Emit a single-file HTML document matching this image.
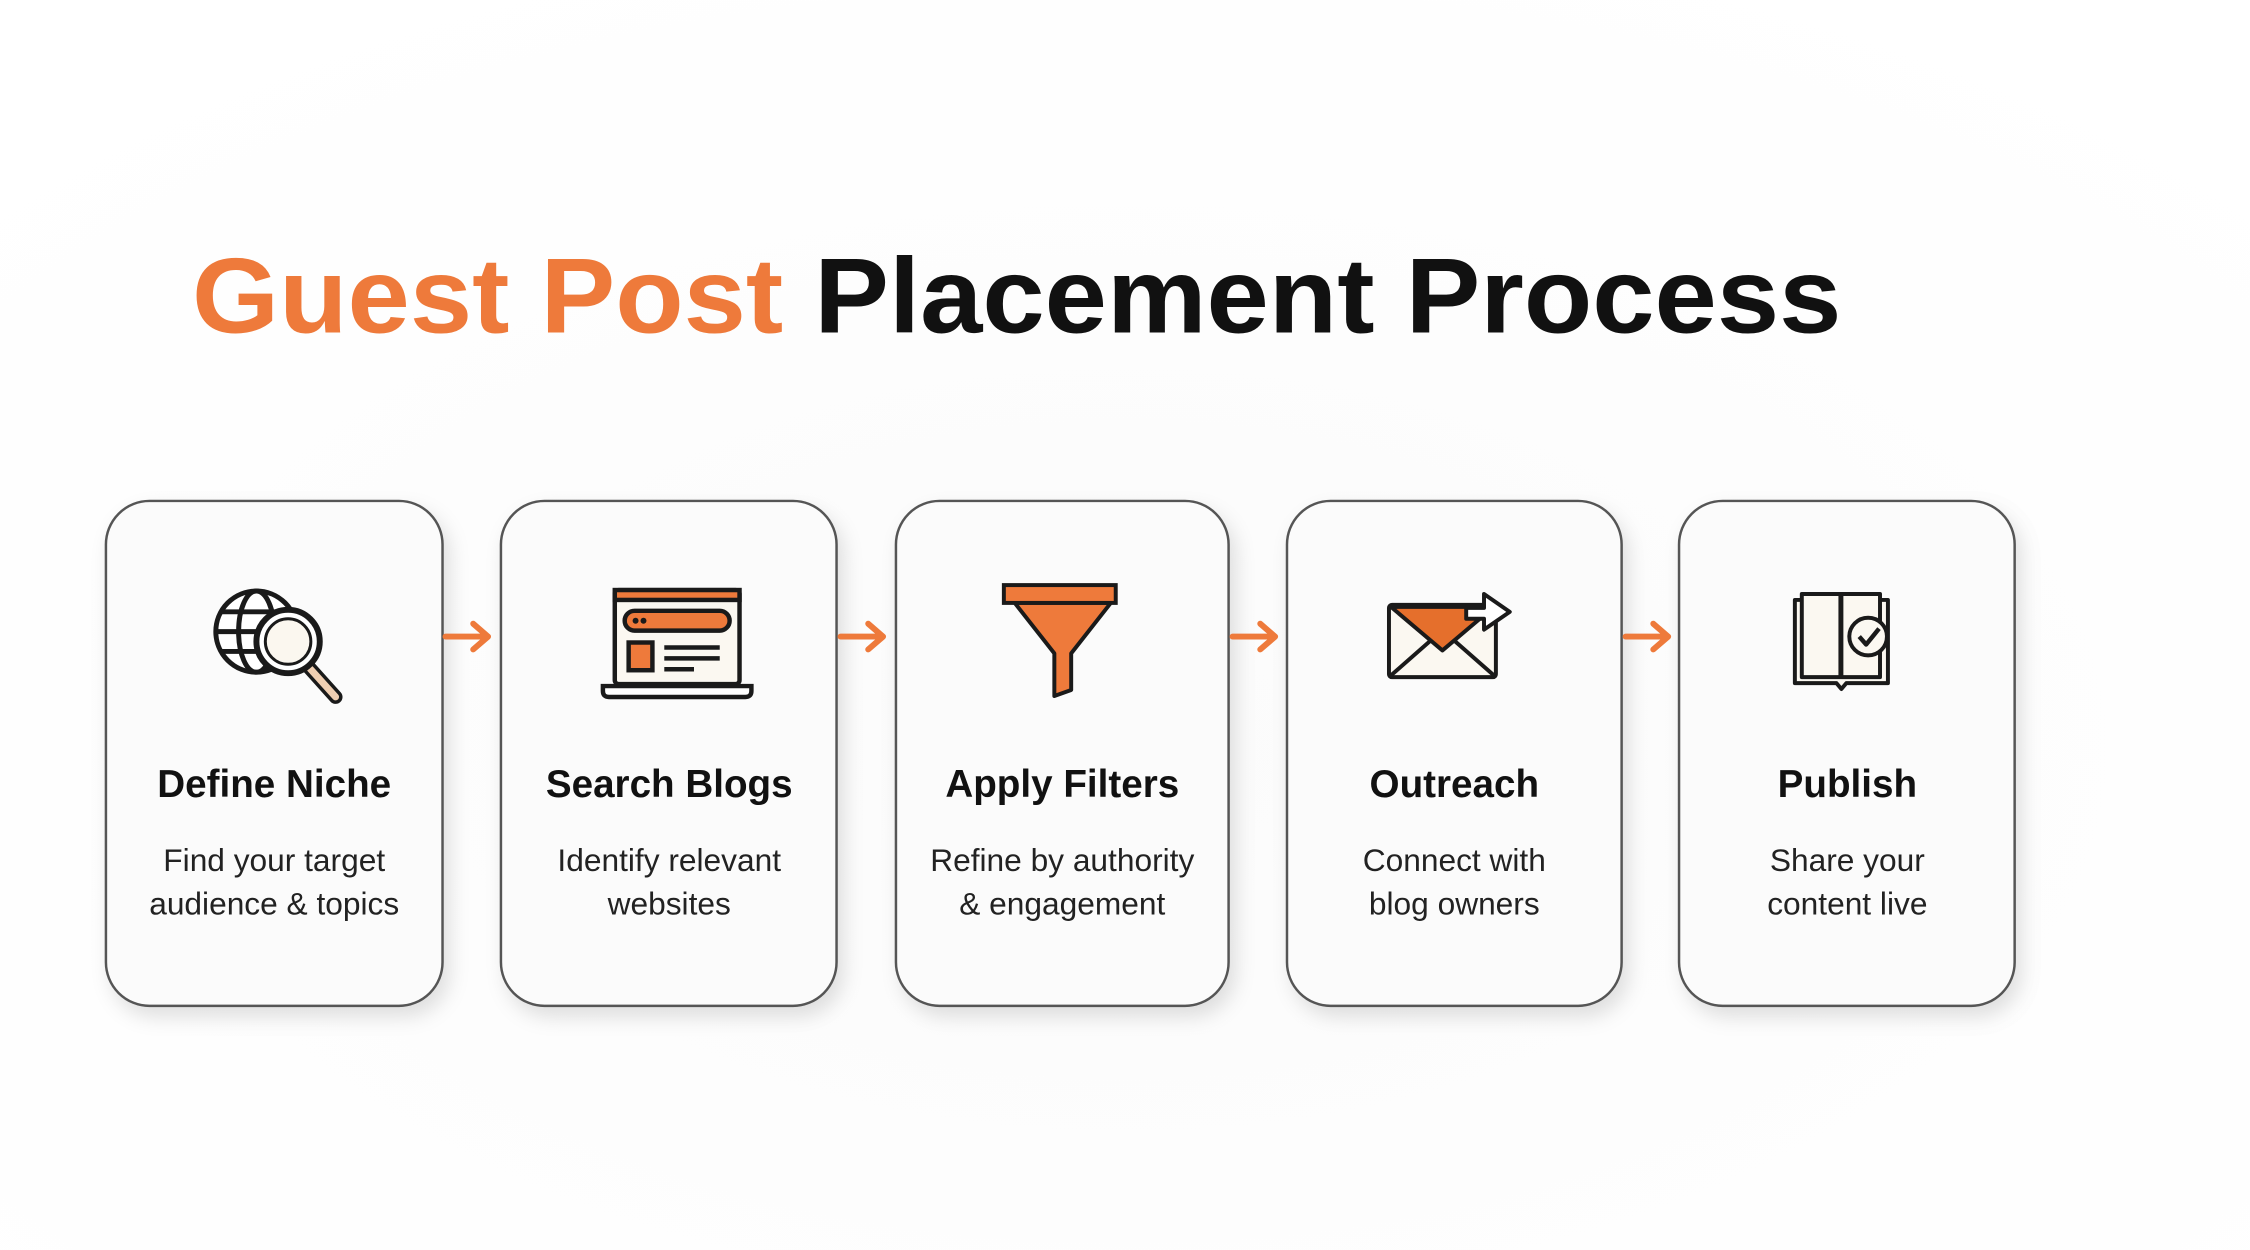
<!DOCTYPE html>
<html><head><meta charset="utf-8"><style>
html,body{margin:0;padding:0;background:#fff;}
svg{display:block;}
text{font-family:"Liberation Sans",Arial,sans-serif;}
</style></head><body>
<svg width="2250" height="1250" viewBox="0 0 2250 1250" xmlns="http://www.w3.org/2000/svg">
<defs>
<filter id="sh" x="-20%" y="-20%" width="150%" height="150%">
<feDropShadow dx="6" dy="10" stdDeviation="10" flood-color="#000" flood-opacity="0.12"/>
</filter>
<radialGradient id="bg" cx="50%" cy="60%" r="70%">
<stop offset="0" stop-color="#fbfbfb"/><stop offset="1" stop-color="#ffffff"/>
</radialGradient>
</defs>
<rect width="2250" height="1250" fill="url(#bg)"/>
<g transform="scale(0.99)">
<text x="194" y="336" font-size="108" font-weight="bold" textLength="1666" lengthAdjust="spacingAndGlyphs"><tspan fill="#ee7a3b">Guest Post</tspan> <tspan fill="#111">Placement Process</tspan></text>

<g filter="url(#sh)" fill="#fbfbfb" stroke="#555" stroke-width="2.5">
<rect x="107" y="506" width="340" height="510" rx="44"/>
<rect x="506" y="506" width="339" height="510" rx="44"/>
<rect x="905" y="506" width="336" height="510" rx="44"/>
<rect x="1300" y="506" width="338" height="510" rx="44"/>
<rect x="1696" y="506" width="339" height="510" rx="44"/>
</g>

<g stroke="#ee7a3b" stroke-width="6" fill="none" stroke-linecap="round" stroke-linejoin="round">
<path d="M450 643 H492 M478 630 L493 643 L478 656"/>
<path d="M849 643 H891 M877 630 L892 643 L877 656"/>
<path d="M1245 643 H1287 M1273 630 L1288 643 L1273 656"/>
<path d="M1642 643 H1684 M1670 630 L1685 643 L1670 656"/>
</g>

<g transform="translate(9,6)">
<g stroke="#1a1a1a" stroke-width="5" fill="none">
<circle cx="250" cy="632" r="41" fill="#fff"/>
<ellipse cx="250" cy="632" rx="18" ry="41"/>
<path d="M209 632 H291 M214 612 H286 M214 652 H286"/>
<line x1="303" y1="668" x2="330" y2="698" stroke="#1a1a1a" stroke-width="14" stroke-linecap="round"/>
<line x1="303" y1="668" x2="330" y2="698" stroke="#f0cfb2" stroke-width="7" stroke-linecap="round"/>
<circle cx="282" cy="642" r="32" fill="#fff" stroke-width="6"/>
<circle cx="282" cy="642" r="23" fill="#fbf7ef" stroke-width="3"/>
</g>

<g stroke="#1a1a1a" stroke-width="4.5">
<rect x="612" y="590" width="126" height="95" rx="4" fill="#fbf8f1"/>
<rect x="612" y="590" width="126" height="10" fill="#ee7a3b"/>
<rect x="622" y="611" width="106" height="20" rx="10" fill="#ee7a3b"/>
<rect x="626" y="643" width="24" height="28" fill="#ee7a3b"/>
<path d="M662 648 H718 M662 659 H718 M662 670 H692" fill="none"/>
<path d="M600 687 H750 V692 Q750 698 744 698 H606 Q600 698 600 692 Z" fill="#fff"/>
</g>
<circle cx="633" cy="621" r="3" fill="#1a1a1a"/><circle cx="641" cy="621" r="3" fill="#1a1a1a"/>

<path d="M1016 603 L1056 654 V697 L1073 691 V654 L1113 603 Z" fill="#ee7a3b" stroke="#1a1a1a" stroke-width="4" stroke-linejoin="round"/>
<rect x="1005" y="585" width="113" height="18" fill="#ee7a3b" stroke="#1a1a1a" stroke-width="4"/>

<g stroke="#1a1a1a" stroke-width="4" stroke-linejoin="round">
<rect x="1394" y="605" width="108" height="73" rx="3" fill="#fbf8f1"/>
<path d="M1394 678 L1435 642 M1502 678 L1461 642" fill="none"/>
<path d="M1396 607 L1448 651 L1500 607 Z" fill="#e56f2c"/>
<path d="M1472 608 H1490 V594 L1516 612 L1490 630 V619 H1472 Z" fill="#fff"/>
</g>

<g stroke="#1a1a1a" stroke-width="4" fill="#fbf8f1" stroke-linejoin="round">
<path d="M1804 600 H1898 V684 H1856 L1851 690 L1846 684 H1804 Z"/>
<rect x="1811" y="594" width="39" height="84"/>
<rect x="1851" y="594" width="39" height="84"/>
<circle cx="1878" cy="637" r="19" fill="#fbf8f1"/>
<path d="M1869 637 L1876 645 L1889 629" fill="none" stroke-width="4.5"/>
</g>
</g>

<g text-anchor="middle" fill="#111">
<text x="277" y="805" font-size="39" font-weight="bold">Define Niche</text>
<text x="676" y="805" font-size="39" font-weight="bold">Search Blogs</text>
<text x="1073" y="805" font-size="39" font-weight="bold">Apply Filters</text>
<text x="1469" y="805" font-size="39" font-weight="bold">Outreach</text>
<text x="1866" y="805" font-size="39" font-weight="bold">Publish</text>
</g>
<g text-anchor="middle" fill="#222" font-size="32">
<text x="277" y="880">Find your target</text><text x="277" y="924">audience &amp; topics</text>
<text x="676" y="880">Identify relevant</text><text x="676" y="924">websites</text>
<text x="1073" y="880">Refine by authority</text><text x="1073" y="924">&amp; engagement</text>
<text x="1469" y="880">Connect with</text><text x="1469" y="924">blog owners</text>
<text x="1866" y="880">Share your</text><text x="1866" y="924">content live</text>
</g>
</g>
</svg>
</body></html>
